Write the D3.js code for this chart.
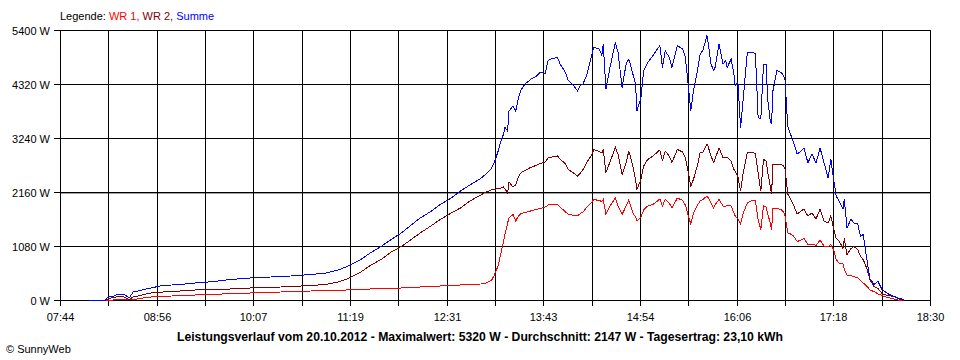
<!DOCTYPE html>
<html><head><meta charset="utf-8">
<script src="https://cdn.jsdelivr.net/npm/d3@7"></script>
<style>
body{margin:0;background:#fff}
svg{display:block}
text{font-family:"Liberation Sans",Arial,sans-serif;font-size:11px;fill:#000}
</style>
</head><body>
<svg id="c" width="960" height="360"></svg>
<script>
const times = [
"08:05","08:17","08:19","08:23","08:27","08:31","08:35","08:38","08:43","08:51",
"09:00","09:13","09:24","09:38","09:50","10:05","10:20","10:35","10:50","11:01",
"11:10","11:16","11:21","11:27","11:34","11:42","11:49","11:57","12:04","12:11",
"12:19","12:26","12:34","12:41","12:48","12:56","13:00","13:04","13:06","13:09",
"13:11","13:13","13:14","13:16","13:17","13:20","13:22","13:24","13:26","13:29",
"13:33","13:37","13:40","13:44","13:46","13:49","13:53","13:55","13:59","14:01",
"14:05","14:08","14:10","14:12","14:15","14:18","14:20","14:24","14:26","14:27",
"14:29","14:32","14:36","14:38","14:41","14:44","14:46","14:49","14:51","14:52",
"14:55","14:57","15:00","15:04","15:09","15:11","15:13","15:16","15:18","15:22",
"15:26","15:28","15:30","15:32","15:34","15:37","15:39","15:41","15:44","15:45",
"15:47","15:49","15:50","15:53","15:56","15:58","15:59","16:02","16:04","16:05",
"16:07","16:09","16:11","16:14","16:18","16:20","16:22","16:24","16:26","16:28",
"16:29","16:31","16:32","16:33","16:36","16:39","16:41","16:42","16:44","16:46",
"16:48","16:51","16:54","16:56","16:59","17:02","17:05","17:08","17:11","17:14",
"17:16","17:18","17:20","17:22","17:25","17:26","17:28","17:31","17:33","17:36",
"17:38","17:40","17:43","17:45","17:48","17:51","17:54","17:58","18:03","18:06",
"18:09","18:11"];

const wr1 = [
0,0,0,10,20,20,20,20,40,70,
80,100,110,120,140,150,160,180,190,200,
210,210,220,220,230,240,250,250,260,270,
280,290,300,310,320,330,350,400,500,700,
940,1180,1320,1550,1650,1720,1590,1690,1740,1760,
1790,1820,1840,1870,1910,1920,1920,1870,1770,1730,
1700,1690,1740,1770,1870,1950,2020,2000,1980,2020,
1720,1890,2050,1890,1720,1890,2010,1750,1670,1590,
1670,1810,1890,1920,2030,1890,2020,1950,1850,2050,
2000,1910,1710,1530,1750,1910,1990,2020,2090,2050,
1950,1850,1910,2020,1890,1880,1910,1890,1750,1690,
1630,1530,1750,1950,2010,1990,1620,1420,1890,1870,
1750,1550,1420,1840,1840,1820,1770,1690,1350,1330,
1300,1180,1210,1240,1120,1130,1100,1210,1090,1080,
1120,1020,820,750,730,620,510,500,480,450,
400,350,280,210,180,130,100,60,30,10,
0,0];

const wr2 = [
0,0,30,60,80,70,20,70,100,150,
170,190,210,220,230,250,260,280,300,320,
370,420,490,570,700,820,960,1080,1210,1350,
1490,1620,1750,1850,1990,2110,2170,2210,2220,2240,
2250,2270,2230,2150,2370,2270,2310,2470,2560,2600,
2660,2700,2740,2770,2850,2870,2890,2830,2730,2620,
2550,2490,2550,2620,2770,2890,3020,2980,2950,3020,
2560,2770,3060,2920,2520,2760,2990,2690,2420,2220,
2420,2690,2820,2890,3010,2790,2990,2890,2760,3020,
2970,2850,2590,2290,2420,2710,2960,2970,3130,3070,
2890,2760,2830,3050,2850,2870,2870,2790,2620,2590,
2470,2190,2560,2970,2970,2930,2560,2190,2820,2790,
2590,2290,2130,2720,2720,2720,2690,2630,2130,2030,
1930,1730,1790,1830,1690,1750,1630,1830,1590,1550,
1690,1450,1240,1200,1040,1240,920,1040,1080,1020,
880,820,620,420,280,240,140,100,80,40,
10,0];

const summe = [
0,0,70,80,130,130,50,170,200,250,
300,320,350,380,420,450,470,490,520,550,
610,670,740,820,950,1080,1210,1350,1500,1650,
1780,1920,2050,2190,2310,2440,2530,2640,2750,2990,
3190,3330,3460,3390,3790,3890,3790,4050,4210,4330,
4420,4480,4560,4540,4800,4840,4860,4730,4560,4400,
4300,4190,4300,4330,4530,4860,5060,5030,4900,5130,
4230,4660,5160,4960,4260,4730,4830,4530,4330,3790,
4060,4600,4760,4900,5100,4660,5000,4860,4660,5100,
5030,4860,4330,3790,4190,4600,4930,5000,5300,5130,
4730,4600,4660,5130,4730,4800,4660,4830,4530,4300,
4360,3460,4060,4960,4960,4930,3660,3630,4730,4730,
4060,3590,3530,4190,4600,4560,4500,4400,3490,3330,
3190,2930,2990,3050,2750,2930,2750,3050,2750,2450,
2830,2430,2090,1990,1830,2030,1450,1630,1550,1530,
1280,1320,780,440,320,380,220,140,80,50,
30,0];

const yTicks = [0,1080,2160,3240,4320,5400];
const xTickLabels = ["07:44","08:56","10:07","11:19","12:31","13:43","14:54","16:06","17:18","18:30"];
const seriesNames = ["WR 1","WR 2","Summe"];
const seriesColors = ["#ff0000","#800000","#0000ff"];
const titleText = "Leistungsverlauf vom 20.10.2012 - Maximalwert: 5320 W - Durchschnitt: 2147 W - Tagesertrag: 23,10 kWh";
const creditText = "\u00A9 SunnyWeb";

const parseT = s => { const [h,m] = s.split(":").map(Number); return h*60+m; };
const svg = d3.select("#c");
const t0 = parseT(xTickLabels[0]), t1 = parseT(xTickLabels[xTickLabels.length-1]);
const x = d3.scaleLinear().domain([t0,t1]).range([60,930]);
const y = d3.scaleLinear().domain([0,5400]).range([300,30]);
const px = v => Math.round(x(v)) + 0.5;
const py = v => Math.round(y(v)) + 0.5;
const nGrid = (xTickLabels.length-1)*2;
const gridVals = d3.range(nGrid+1).map(i => t0 + i*(t1-t0)/nGrid);

// horizontal grid
const g = svg.append("g").attr("shape-rendering","crispEdges");
g.selectAll(".hg").data(yTicks).join("line")
  .attr("x1",54).attr("x2",930.5).attr("y1",d=>py(d)).attr("y2",d=>py(d))
  .attr("stroke","#000");
// gray shadow under the 2160 line
g.append("line").attr("x1",60).attr("x2",930.5).attr("y1",py(2160)+1).attr("y2",py(2160)+1).attr("stroke","#a0a0a0");
// vertical grid + ticks
g.selectAll(".vg").data(gridVals).join("line")
  .attr("x1",d=>px(d)).attr("x2",d=>px(d)).attr("y1",30).attr("y2",306)
  .attr("stroke","#000");

// y labels
svg.selectAll(".yl").data(yTicks).join("text")
  .attr("x",50).attr("y",d=>y(d)+4.5).attr("text-anchor","end")
  .text(d=>d+" W");
// x labels
svg.selectAll(".xl").data(xTickLabels).join("text")
  .attr("x",(d,i)=>px(gridVals[i*2])).attr("y",320.5).attr("text-anchor","middle")
  .text(d=>d);

// lines
const seriesData = [wr1,wr2,summe];
const line = d3.line().x(d=>x(d[0])+0.5).y(d=>y(d[1])+0.5);
seriesData.forEach((vals,k)=>{
  const pts = times.map((t,i)=>[parseT(t),vals[i]]);
  svg.append("path").attr("d",line(pts)).attr("fill","none")
    .attr("stroke",seriesColors[k]).attr("stroke-width",1)
    .attr("shape-rendering","crispEdges");
});

// legend
const leg = svg.append("text").attr("x",60).attr("y",20);
leg.append("tspan").text("Legende: ");
seriesNames.forEach((n,i)=>{
  leg.append("tspan").attr("fill",seriesColors[i]).style("fill",seriesColors[i])
    .text(n + (i<seriesNames.length-1 ? ", " : ""));
});

// title
const tt = svg.append("text").attr("x",480).attr("y",341).attr("text-anchor","middle")
  .style("font-weight","bold").style("font-size","12px").text(titleText);
const w = tt.node().getComputedTextLength();
tt.style("font-size",(12*606/w).toFixed(2)+"px");

svg.append("text").attr("x",6).attr("y",353).text(creditText);
</script>
</body></html>
